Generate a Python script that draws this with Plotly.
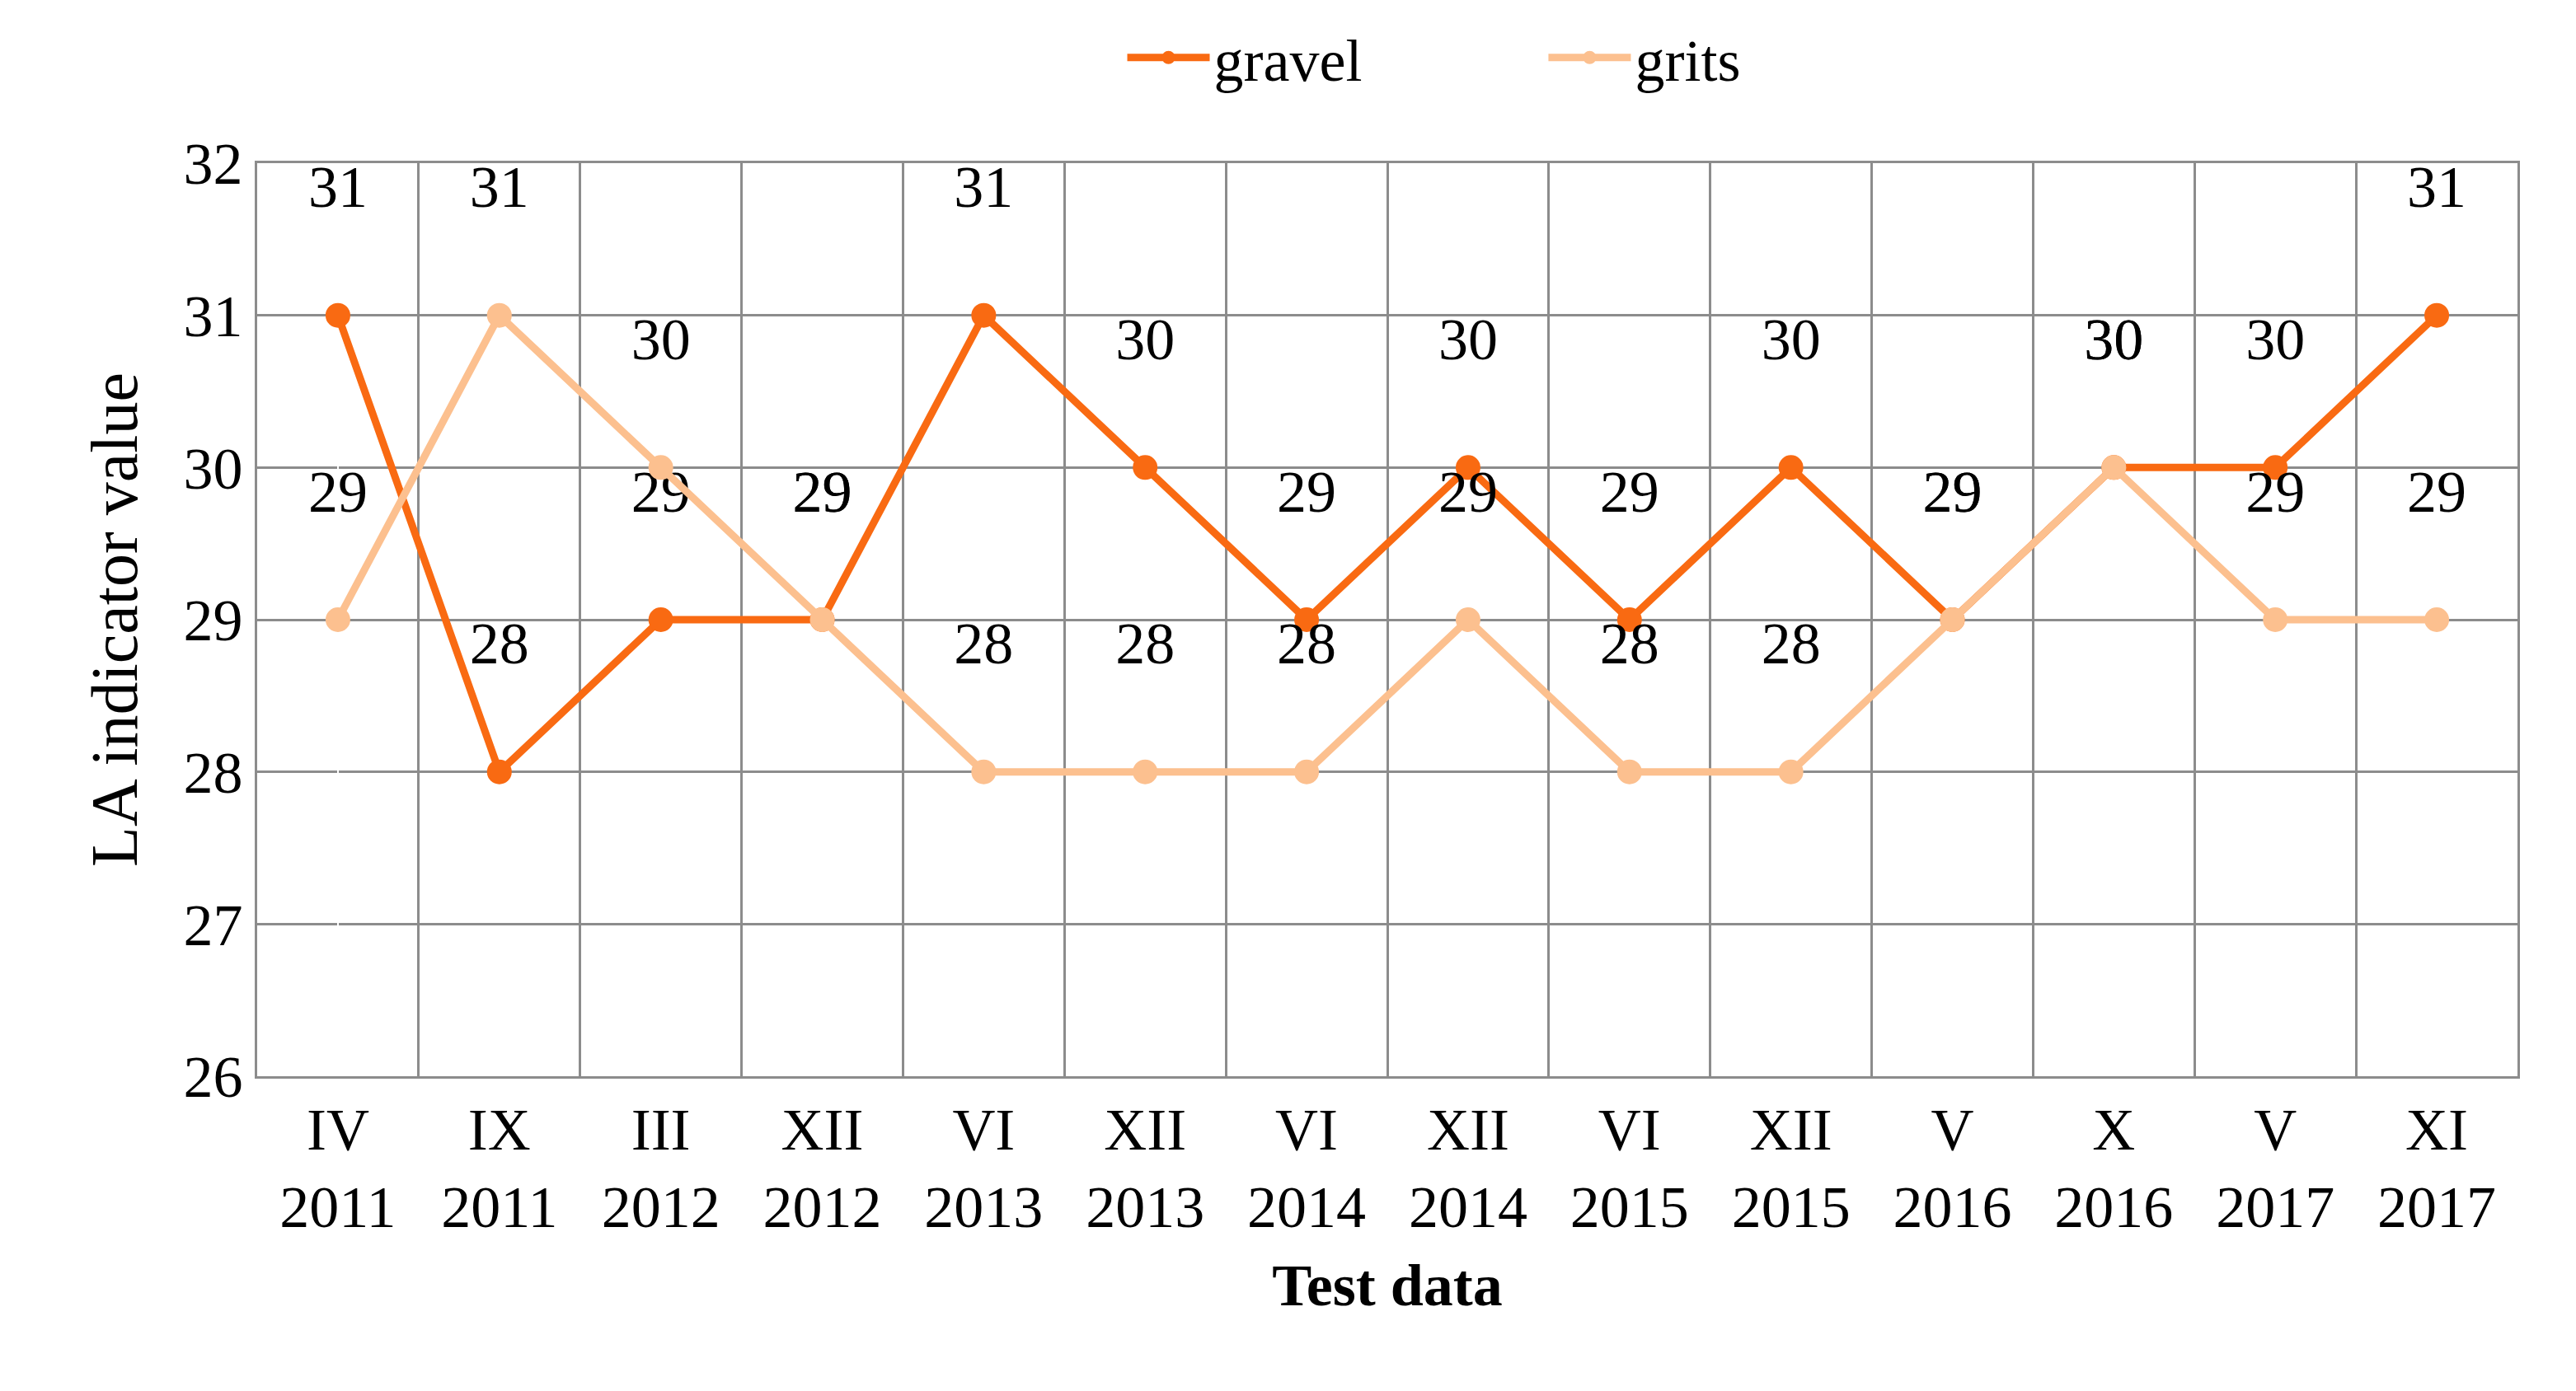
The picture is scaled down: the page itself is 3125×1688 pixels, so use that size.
import plotly.graph_objects as go

months = ["IV", "IX", "III", "XII", "VI", "XII", "VI", "XII", "VI", "XII", "V", "X", "V", "XI"]
years = ["2011", "2011", "2012", "2012", "2013", "2013", "2014", "2014", "2015", "2015", "2016", "2016", "2017", "2017"]
gravel = [31, 28, 29, 29, 31, 30, 29, 30, 29, 30, 29, 30, 30, 31]
grits = [29, 31, 30, 29, 28, 28, 28, 29, 28, 28, 29, 30, 29, 29]

x = list(range(len(months)))
tick_text = [f"{m}<br>{y}" for m, y in zip(months, years)]
font = "Liberation Serif, Times New Roman, serif"

fig = go.Figure()
for name, vals, color in [("gravel", gravel, "#F96A12"), ("grits", grits, "#FCC08F")]:
    fig.add_trace(go.Scatter(
        x=x, y=vals, name=name + "            ", mode="lines+markers+text",
        line=dict(color=color, width=9),
        marker=dict(color=color, size=30),
        text=[str(v) + "<br> " for v in vals], textposition="top center",
        textfont=dict(size=72, color="black", family=font),
        cliponaxis=False,
    ))

fig.update_layout(
    width=3125, height=1688,
    margin=dict(l=304, r=79, t=190, b=390),
    plot_bgcolor="white", paper_bgcolor="white",
    font=dict(family=font, size=72, color="black"),
    legend=dict(orientation="h", x=0.56, xanchor="center", y=0.995, yanchor="top",
                yref="container", font=dict(size=72), itemwidth=100),
)
fig.update_xaxes(
    range=[-0.5, 13.5], tickvals=x, ticktext=tick_text, showgrid=False,
    minor=dict(tick0=-0.5, dtick=1, showgrid=True, gridcolor="#8c8c8c", gridwidth=3),
    showline=True, linecolor="#8c8c8c", linewidth=3, mirror=True,
    tickfont=dict(size=72), ticks="",
    title=dict(text="<b>Test data</b>", font=dict(size=72), standoff=30),
)
fig.update_yaxes(
    range=[26, 32], dtick=1, gridcolor="#8c8c8c", gridwidth=3,
    showline=True, linecolor="#8c8c8c", linewidth=3, mirror=True,
    tickfont=dict(size=72), ticks="",
    title=dict(text="LA indicator value", font=dict(size=80), standoff=30),
)
fig.write_html("out.html")
